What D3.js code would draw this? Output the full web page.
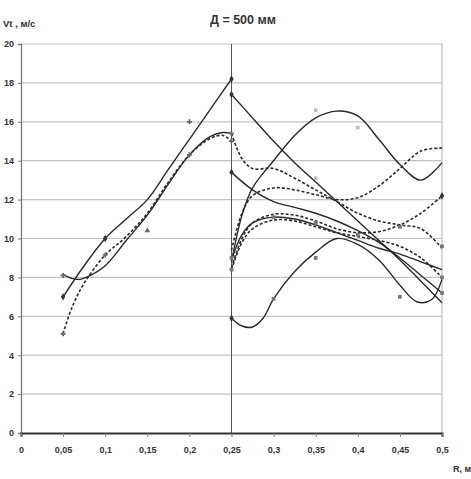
<!DOCTYPE html>
<html><head><meta charset="utf-8">
<script src="https://cdn.jsdelivr.net/npm/d3@7"></script>
<style>
html,body{margin:0;padding:0;background:#fff;}
svg text{font-family:"Liberation Sans Narrow","Liberation Sans",Arial,sans-serif;font-weight:bold;fill:#333;}
</style></head>
<body>
<svg id="chart" width="471" height="479"></svg>
<script>
// ---- data ----
const titleText = "Д = 500 мм";
const yLabel = "Vt , м/с";
const xLabel = "R, м";
const xTicks = [0,0.05,0.1,0.15,0.2,0.25,0.3,0.35,0.4,0.45,0.5];
const xTickLabels = ["0","0,05","0,1","0,15","0,2","0,25","0,3","0,35","0,4","0,45","0,5"];
const yTicks = [0,2,4,6,8,10,12,14,16,18,20];

// left zone curves (R from 0.05 to 0.25)
const curveL1 = [[0.05,7],[0.075,8.6],[0.1,10],[0.125,11.0],[0.15,12.0],[0.175,13.55],[0.2,15.1],[0.225,16.65],[0.25,18.2]];
const curveL2 = [[0.05,8.15],[0.06,7.95],[0.07,7.9],[0.08,8.05],[0.1,8.6],[0.125,9.9],[0.15,11.2],[0.175,12.8],[0.2,14.3],[0.225,15.25],[0.24,15.45],[0.25,15.4]];
const curveL3 = [[0.05,5.1],[0.06,6.4],[0.075,7.7],[0.1,9.15],[0.125,10.1],[0.15,11.3],[0.175,12.9],[0.2,14.3],[0.225,15.15],[0.24,15.3],[0.25,15.0]];

// right zone curves (R from 0.25 to 0.5)
const curveRa = [[0.25,17.4],[0.275,16.2],[0.3,15.0],[0.325,13.9],[0.35,12.9],[0.375,11.9],[0.4,10.9],[0.425,9.9],[0.45,8.9],[0.475,7.8],[0.5,6.7]];
const curveRb = [[0.25,8.8],[0.2625,11.2],[0.275,12.6],[0.3,14.0],[0.325,15.3],[0.35,16.2],[0.375,16.55],[0.4,16.3],[0.425,15.1],[0.45,13.8],[0.475,13.0],[0.5,13.9]];
const curveRc = [[0.25,9.4],[0.2625,11.3],[0.275,12.2],[0.3,12.6],[0.325,12.5],[0.35,12.25],[0.375,12.0],[0.4,12.1],[0.425,12.7],[0.45,13.6],[0.475,14.5],[0.5,14.65]];
const curveRd = [[0.25,15.4],[0.2625,14.1],[0.275,13.6],[0.3,13.6],[0.325,13.1],[0.35,12.5],[0.375,11.9],[0.4,11.3],[0.425,10.9],[0.45,10.7],[0.475,10.5],[0.5,9.5]];
const curveRe = [[0.25,13.4],[0.275,12.5],[0.3,11.9],[0.325,11.6],[0.35,11.3],[0.375,10.9],[0.4,10.4],[0.425,9.8],[0.45,9.0],[0.475,8.1],[0.5,7.2]];
const curveRf = [[0.25,8.5],[0.2625,10.0],[0.275,10.8],[0.3,11.25],[0.325,11.2],[0.35,10.9],[0.375,10.5],[0.4,10.3],[0.425,10.35],[0.45,10.7],[0.475,11.3],[0.5,12.2]];
const curveRg = [[0.25,5.9],[0.2625,5.5],[0.275,5.45],[0.2875,5.9],[0.3,6.9],[0.325,8.3],[0.35,9.3],[0.375,10.0],[0.4,9.7],[0.425,8.9],[0.45,7.6],[0.47,6.75],[0.4875,6.85],[0.5,7.9]];
const curveRh = [[0.25,8.9],[0.2625,10.2],[0.275,10.8],[0.3,11.1],[0.325,11.0],[0.35,10.7],[0.375,10.3],[0.4,9.9],[0.425,9.5],[0.45,9.2],[0.475,8.8],[0.5,8.4]];
const curveRi = [[0.25,8.4],[0.2625,9.8],[0.275,10.5],[0.3,10.95],[0.325,10.9],[0.35,10.6],[0.375,10.3],[0.4,10.1],[0.425,9.9],[0.45,9.6],[0.475,9.0],[0.5,8.0]];

// measured points (markers)
const pointsDark = [[0.05,7],[0.1,10],[0.25,18.2],[0.25,17.4],[0.25,13.4],[0.5,12.2],[0.25,5.9]];
const pointsCross = [[0.1,9.15],[0.2,16],[0.2,14.3],[0.05,8.1],[0.05,5.1],[0.25,15.4],[0.25,15.0]];
const pointsTri = [[0.15,10.4]];
const pointsSquare = [[0.3,6.9],[0.35,9.0],[0.45,7.0],[0.25,8.4],[0.25,9.0],[0.3,11.1],[0.35,10.8],[0.4,10.2],[0.45,10.6],[0.5,9.6],[0.5,8.0],[0.5,7.2]];
const pointsLight = [[0.35,16.6],[0.4,15.7],[0.35,13.1]];

const solidCurves = [curveL1, curveL2, curveRa, curveRb, curveRe, curveRg, curveRh];
const dashedCurves = [curveL3, curveRc, curveRd, curveRf, curveRi];

// ---- drawing ----
const svg = d3.select("#chart");
const x = d3.scaleLinear().domain([0,0.5]).range([21,442]);
const y = d3.scaleLinear().domain([0,20]).range([433,44]);

// grid
svg.append("g").selectAll("line").data(yTicks.filter(d=>d>0)).join("line")
  .attr("x1",x(0)).attr("x2",x(0.5)).attr("y1",d=>y(d)).attr("y2",d=>y(d))
  .attr("stroke","#c4c4c4").attr("stroke-width",1.2);
// right border
svg.append("line").attr("x1",x(0.5)).attr("x2",x(0.5)).attr("y1",y(20)).attr("y2",y(0))
  .attr("stroke","#bdbdbd").attr("stroke-width",1.2);
// divider at 0.25
svg.append("line").attr("x1",x(0.25)).attr("x2",x(0.25)).attr("y1",y(20)).attr("y2",y(0))
  .attr("stroke","#555").attr("stroke-width",1);

// axes
const yAxis = d3.axisLeft(y).tickValues(yTicks).tickSize(3).tickPadding(4).tickFormat(d3.format("d"));
const gy = svg.append("g").attr("transform",`translate(${x(0)},0)`).call(yAxis);
gy.select(".domain").attr("stroke","#777").attr("stroke-width",1.3);
gy.selectAll(".tick line").attr("stroke","#777");
gy.selectAll("text").attr("font-size",9).attr("fill","#333");

const xAxis = d3.axisBottom(x).tickValues(xTicks).tickSize(4).tickPadding(10).tickFormat((d,i)=>xTickLabels[i]);
const gx = svg.append("g").attr("transform",`translate(0,${y(0)})`).call(xAxis);
gx.select(".domain").attr("stroke","#333").attr("stroke-width",2);
gx.selectAll(".tick line").attr("stroke","#777");
gx.selectAll("text").attr("font-size",9).attr("fill","#333");

// lines
const line = d3.line().x(d=>x(d[0])).y(d=>y(d[1])).curve(d3.curveCatmullRom.alpha(0.5));
svg.append("g").selectAll("path").data(solidCurves).join("path")
  .attr("d",line).attr("fill","none").attr("stroke","#2a2a2a").attr("stroke-width",1.4);
svg.append("g").selectAll("path").data(dashedCurves).join("path")
  .attr("d",line).attr("fill","none").attr("stroke","#2a2a2a").attr("stroke-width",1.6)
  .attr("stroke-dasharray","3,2");

// markers
function marks(data, type, size, fill){
  svg.append("g").selectAll("path").data(data).join("path")
    .attr("transform",d=>`translate(${x(d[0])},${y(d[1])})`)
    .attr("d",d3.symbol().type(type).size(size)).attr("fill",fill);
}
marks(pointsDark, d3.symbolDiamond, 16, "#333");
marks(pointsCross, d3.symbolCross, 14, "#666");
marks(pointsTri, d3.symbolTriangle, 14, "#666");
marks(pointsSquare, d3.symbolSquare, 14, "#777");
marks(pointsLight, d3.symbolSquare, 12, "#bbb");

// texts
svg.append("text").attr("x",243).attr("y",24).attr("text-anchor","middle").attr("font-size",12.5).text(titleText);
svg.append("text").attr("x",3).attr("y",27).attr("font-size",9.5).text(yLabel);
svg.append("text").attr("x",453).attr("y",472).attr("font-size",9).text(xLabel);
</script>
</body></html>
